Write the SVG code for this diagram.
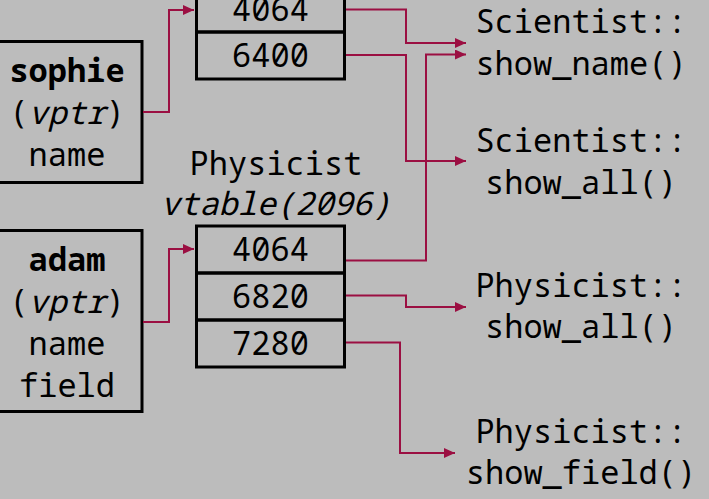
<svg xmlns="http://www.w3.org/2000/svg" width="709" height="499" viewBox="0 0 709 499">
<defs>
<style>
text{font-family:"Noto Sans Mono","DejaVu Sans Mono","Liberation Mono",monospace;font-size:32px;fill:#000;text-anchor:middle}
.b{font-weight:bold}
.i{font-style:italic}
.box{fill:none;stroke:#000;stroke-width:3}
.c{fill:none;stroke:#9b0f42;stroke-width:2}
</style>
<marker id="ah" markerUnits="userSpaceOnUse" markerWidth="12" markerHeight="11" refX="11" refY="5" orient="auto">
<path d="M0,0 L11,5 L0,10 z" fill="#9b0f42"/>
</marker>
</defs>
<rect width="709" height="499" fill="#bcbcbc"/>
<g id="sophie">
<rect class="box" x="-10" y="41.5" width="152" height="141"/>
<text x="67" y="82" class="b">sophie</text>
<text x="67" y="124">(<tspan class="i">vptr</tspan>)</text>
<text x="67" y="166">name</text>
</g>
<g id="adam">
<rect class="box" x="-10" y="230.5" width="152" height="181"/>
<text x="67" y="271" class="b">adam</text>
<text x="67" y="313">(<tspan class="i">vptr</tspan>)</text>
<text x="67" y="355">name</text>
<text x="67" y="397">field</text>
</g>
<g id="scientist-vtable">
<rect class="box" x="196.5" y="-15" width="148" height="47"/>
<rect class="box" x="196.5" y="32" width="148" height="47"/>
<text x="270.5" y="21">4064</text>
<text x="270.5" y="67">6400</text>
</g>
<g id="physicist-vtable">
<text x="276" y="175">Physicist</text>
<text x="276" y="215" class="i">vtable(2096)</text>
<rect class="box" x="196.5" y="226" width="148" height="47"/>
<rect class="box" x="196.5" y="273" width="148" height="47"/>
<rect class="box" x="196.5" y="320" width="148" height="47"/>
<text x="270.5" y="261">4064</text>
<text x="270.5" y="308">6820</text>
<text x="270.5" y="355">7280</text>
</g>
<g id="scientist-show-name">
<text x="581" y="33">Scientist::</text>
<text x="581" y="75">show_name()</text>
</g>
<g id="scientist-show-all">
<text x="581" y="152">Scientist::</text>
<text x="581" y="194">show_all()</text>
</g>
<g id="physicist-show-all">
<text x="581" y="297">Physicist::</text>
<text x="581" y="338">show_all()</text>
</g>
<g id="physicist-show-field">
<text x="581" y="443">Physicist::</text>
<text x="581" y="484">show_field()</text>
</g>
<g id="connectors">
<polyline class="c" points="143,112 169,112 169,10 194,10" marker-end="url(#ah)"/>
<polyline class="c" points="143,322 169,322 169,249 194,249" marker-end="url(#ah)"/>
<polyline class="c" points="346,9.5 406,9.5 406,43 466,43" marker-end="url(#ah)"/>
<polyline class="c" points="346,55 406,55 406,161 466,161" marker-end="url(#ah)"/>
<polyline class="c" points="346,260.5 426,260.5 426,54.5 466,54.5" marker-end="url(#ah)"/>
<polyline class="c" points="346,295.5 406,295.5 406,307 466,307" marker-end="url(#ah)"/>
<polyline class="c" points="346,342.5 400,342.5 400,453 455,453" marker-end="url(#ah)"/>
</g>
</svg>
